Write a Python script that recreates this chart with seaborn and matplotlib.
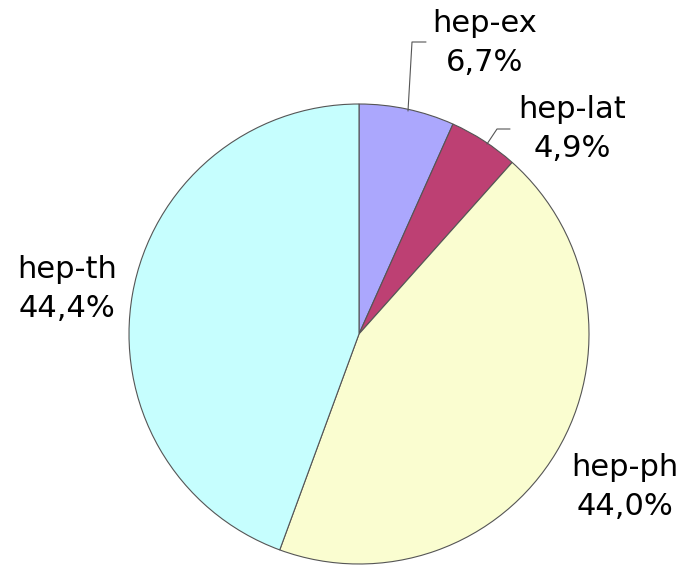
import matplotlib
matplotlib.use("Agg")
import matplotlib.pyplot as plt
import seaborn as sns

# arXiv categories and their shares (%)
labels = ["hep-ex", "hep-lat", "hep-ph", "hep-th"]
shares = [6.7, 4.9, 44.0, 44.4]
colors = ["#aba7fd", "#bd4073", "#fafdd0", "#c6fefe"]

sns.set_style("white")
plt.rcParams['font.family'] = ['DejaVu Sans']

W, H = 683, 571
fig = plt.figure(figsize=(W / 100, H / 100), dpi=100)
ax = fig.add_axes([0, 0, 1, 1])

cx, cy, r = 359, H - 334, 230
ax.pie(shares, colors=colors, startangle=90, counterclock=False,
       center=(cx, cy), radius=r, frame=True,
       wedgeprops=dict(edgecolor="#555555", linewidth=0.8))
ax.set_xlim(0, W)
ax.set_ylim(0, H)
ax.set_aspect("equal")
ax.axis("off")

# label positions (pixels from top-left), same order as labels
label_pos = [(485, 43), (572, 129), (625, 487), (67, 289)]
for name, val, (x, y) in zip(labels, shares, label_pos):
    txt = f"{name}\n{val:.1f}%".replace(".", ",")
    ax.text(x, H - y, txt, ha="center", va="center", fontsize=22,
            linespacing=1.4, color="black")

# leader lines
ax.plot([408, 412, 426], [H - 111, H - 42, H - 42], color="#555555", lw=0.8)
ax.plot([487, 497, 510], [H - 144, H - 129, H - 129], color="#555555", lw=0.8)

fig.savefig("out.png", dpi=100)
